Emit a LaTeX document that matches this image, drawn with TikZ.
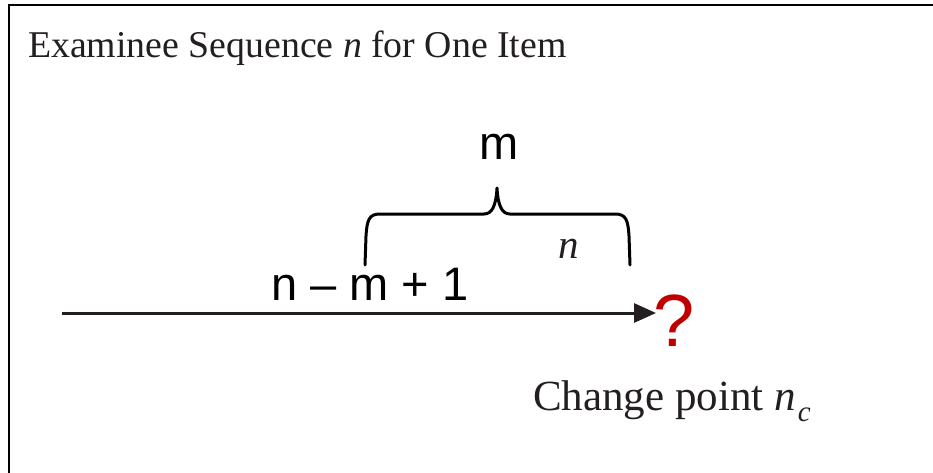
\documentclass[tikz,border=0pt]{standalone}
\usepackage{fontspec}
\setmainfont{Liberation Serif}
\newfontfamily\arialf{Liberation Sans}
\usetikzlibrary{arrows.meta}
\definecolor{inkc}{HTML}{231F20}
\definecolor{qred}{HTML}{C00000}
\begin{document}
\begin{tikzpicture}[x=1pt,y=-1pt,
  serifbig/.style={font=\fontsize{37.8}{44}\selectfont, inner sep=0pt, text=inkc},
  sansbig/.style={font=\arialf\fontsize{47}{52}\selectfont, inner sep=0pt, text=black},
  brace/.style={line width=3pt, black, line cap=round, line join=round},
  axis/.style={line width=3pt, inkc, -{Triangle[length=22pt,width=19pt]}},
]
\useasboundingbox (0,0) rectangle (933,473);
% frame
\draw[line width=2.8pt, black] (9,475) -- (9,5) -- (935,5);
% title
\node[serifbig, anchor=base west] (title) at (28,58) {Examinee Sequence \textit{n} for One Item};
% brace
\draw[brace] (365,265) -- (366,236) .. controls (367,220) and (369,214) .. (380,214)
  -- (484,214) .. controls (492,214) and (496,206) .. (497,188)
  .. controls (498,206) and (502,214) .. (510,214)
  -- (615,214) .. controls (626,214) and (628,220) .. (629,236) -- (630,265);
\node[sansbig, anchor=base] (m) at (499,160) {m};
\node[serifbig, font=\fontsize{41}{44}\selectfont\itshape, anchor=base] (nlab) at (569,258) {n};
\node[sansbig, anchor=base west] (nm1) at (271,300) {n – m + 1};
% axis
\coordinate (a0) at (62,313);
\coordinate (a1) at (656,313);
\draw[axis] (a0) -- (a1);
\node[font=\arialf\fontsize{74}{80}\selectfont, text=qred, inner sep=0pt, anchor=base] (q) at (674,346) {?};
\node[serifbig, font=\fontsize{43}{50}\selectfont, anchor=base west] (cp) at (533,410) {Change point \textit{n}\kern2pt\raisebox{-11pt}{\fontsize{29}{32}\selectfont\textit{c}}};
\end{tikzpicture}
\end{document}
